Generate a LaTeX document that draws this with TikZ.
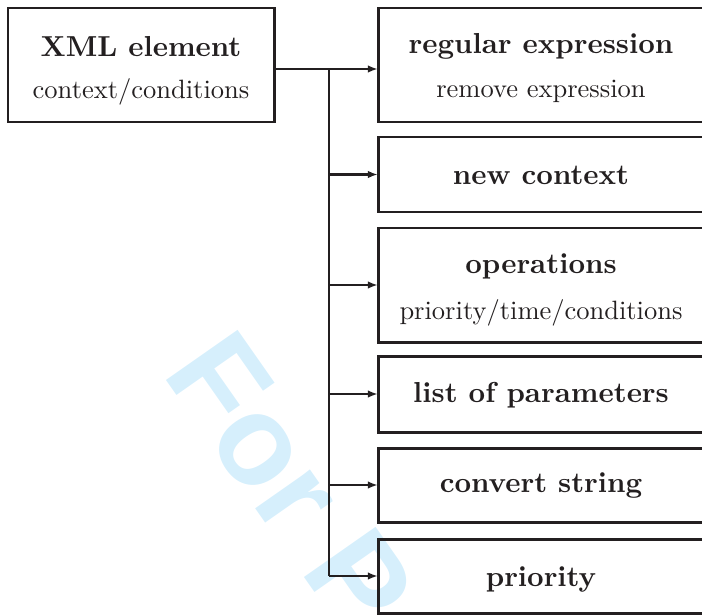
\documentclass[tikz,border=0pt]{standalone}
\usepackage{fontspec}
\newfontfamily\wmfont{Liberation Sans}
\usetikzlibrary{arrows.meta}
\definecolor{wmblue}{RGB}{214,239,252}
\definecolor{ink}{RGB}{35,31,32}
\newcommand\pxu{0.3774pt}
\begin{document}
\begin{tikzpicture}[x=0.3774pt,y=-0.3774pt,
  box/.style={draw=ink, line width=1.13pt, rectangle, inner sep=0pt, outer sep=0pt},
  title/.style={font=\fontsize{10.9}{13}\selectfont\bfseries, text=ink, anchor=base, inner sep=0pt},
  sub/.style={font=\fontsize{10}{12}\selectfont, text=ink, anchor=base, inner sep=0pt},
  conn/.style={draw=ink, line width=1.05pt},
  arr/.style={conn, -{Latex[length=3.8pt,width=2.8pt]}},
  wmark/.style={font=\fontsize{48}{50}\selectfont\wmfont\bfseries, text=wmblue, inner sep=0pt}]
\useasboundingbox (0,0) rectangle (702,615);
% watermark
\node[wmark, anchor=base west, rotate=-55] (wm) at (161,373.5) {For P};
% boxes
\node[box, minimum width=266*\pxu, minimum height=114*\pxu] (xml) at (141,65) {};
\node[box, minimum width=327*\pxu, minimum height=114*\pxu] (b1) at (541.5,65) {};
\node[box, minimum width=327*\pxu, minimum height=75*\pxu] (b2) at (541.5,174.5) {};
\node[box, minimum width=327*\pxu, minimum height=114*\pxu] (b3) at (541.5,285) {};
\node[box, minimum width=327*\pxu, minimum height=76*\pxu] (b4) at (541.5,394) {};
\node[box, minimum width=327*\pxu, minimum height=74*\pxu] (b5) at (541.5,485) {};
\node[box, minimum width=327*\pxu, minimum height=74*\pxu] (b6) at (541.5,576) {};
% texts
\node[title] (xmlt) at (141,57) {XML element};
\node[sub] (xmls) at (141,99) {context/conditions};
\node[title] (b1t) at (541,54) {regular expression};
\node[sub] (b1s) at (541,98) {remove expression};
\node[title] (b2t) at (541,184) {new context};
\node[title] (b3t) at (541,273.5) {operations};
\node[sub] (b3s) at (541,319) {priority/time/conditions};
\node[title] (b4t) at (541,402) {list of parameters};
\node[title] (b5t) at (541,492) {convert string};
\node[title] (b6t) at (541,586) {priority};
% connectors
\coordinate (j0) at (329,69);
\draw[arr] (xml.east |- j0) -- (b1.west |- j0);
\draw[conn] (j0) -- (j0 |- b6.west);
\draw[arr] (j0 |- b2.west) -- (b2.west);
\draw[arr] (j0 |- b3.west) -- (b3.west);
\draw[arr] (j0 |- b4.west) -- (b4.west);
\draw[arr] (j0 |- b5.west) -- (b5.west);
\draw[arr] (j0 |- b6.west) -- (b6.west);
\end{tikzpicture}
\end{document}
